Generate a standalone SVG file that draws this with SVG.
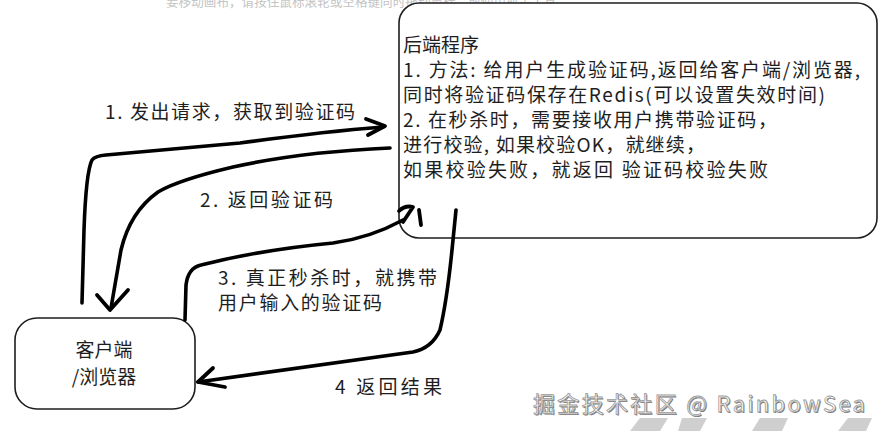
<svg xmlns="http://www.w3.org/2000/svg" width="879" height="431" viewBox="0 0 879 431">
<style>
.t{font-family:"Noto Sans CJK SC","Noto Sans",sans-serif;fill:#1e1e1e;font-size:19px}
.box{fill:#fff;stroke:#1e1e1e;stroke-width:1.6}
.c{fill:none;stroke:#000;stroke-width:3.6;stroke-linecap:round;stroke-linejoin:round}
.h{fill:none;stroke:#000;stroke-width:3.8;stroke-linecap:round;stroke-linejoin:round}
.wm{font-family:"Noto Sans CJK SC","Noto Sans",sans-serif;font-size:22px}
</style>
<rect width="879" height="431" fill="#fff"/>
<text x="166" y="6" font-family="Noto Sans CJK SC, sans-serif" font-size="12.6" fill="#c4c4c4">要移动画布，请按住鼠标滚轮或空格键同时拖动鼠标，或使用抓手工具。</text>
<g id="backend">
<rect class="box" x="399" y="3" width="478" height="235" rx="20"/>
<text class="t" x="403" y="52">后端程序</text>
<text class="t" x="403" y="77" textLength="457">1. 方法: 给用户生成验证码,返回给客户端/浏览器,</text>
<text class="t" x="403" y="102" textLength="422">同时将验证码保存在Redis(可以设置失效时间)</text>
<text class="t" x="403" y="127" textLength="374">2. 在秒杀时，需要接收用户携带验证码，</text>
<text class="t" x="403" y="152" textLength="302">进行校验, 如果校验OK，就继续，</text>
<text class="t" x="403" y="177" textLength="365">如果校验失败，就返回 验证码校验失败</text>
</g>
<g id="client">
<rect class="box" x="15" y="318" width="180" height="91" rx="22"/>
<text class="t" x="104" y="357" text-anchor="middle" font-size="20">客户端</text>
<text class="t" x="104" y="384" text-anchor="middle" font-size="20">/浏览器</text>
</g>
<g id="connectors">
<path class="c" d="M82,303 L84,230 Q86,172 92,160 Q95,156 106,155 L240,143 Q320,132 383,127"/>
<path class="h" d="M366,119 L385,126 L368,135"/>
<path class="c" d="M390,148 Q300,152 233,167 Q178,180 158,192 Q130,212 121,250 L111,308"/>
<path class="h" d="M97,295 L110,310 L128,290"/>
<path class="c" d="M185,320 L186,285 Q188,268 201,265 Q260,250 333,243 Q370,238 403,220"/>
<path class="h" d="M399,211 Q405,205 413,207 L403,222 M419,210 L421,225"/>
<path class="c" d="M456,210 L452,250 Q447,300 440,330 Q432,348 413,352 L198,382"/>
<path class="h" d="M213,368 L198,382 L225,387"/>
</g>
<g id="labels">
<text class="t" x="105" y="119" textLength="250">1. 发出请求，获取到验证码</text>
<text class="t" x="200" y="207" textLength="133">2. 返回验证码</text>
<text class="t" x="218" y="285" textLength="219">3. 真正秒杀时，就携带</text>
<text class="t" x="218" y="310" textLength="164">用户输入的验证码</text>
<text class="t" x="335" y="394" textLength="107">4 返回结果</text>
</g>
<g id="watermark">
<text class="wm" x="533" y="412" fill="#777" transform="translate(1,1)" textLength="332">掘金技术社区 @ RainbowSea</text>
<text class="wm" x="533" y="412" fill="#fff" stroke="#999" stroke-width="0.8" textLength="332">掘金技术社区 @ RainbowSea</text>
<polygon points="630,431 640,418 668,418 660,431" fill="#cfcfcf"/>
<polygon points="678,431 682,418 707,418 700,431" fill="#cfcfcf"/>
<polygon points="752,431 760,418 788,418 782,431" fill="#cfcfcf"/>
<polygon points="838,431 848,418 872,418 866,431" fill="#cfcfcf"/>
</g>
</svg>
